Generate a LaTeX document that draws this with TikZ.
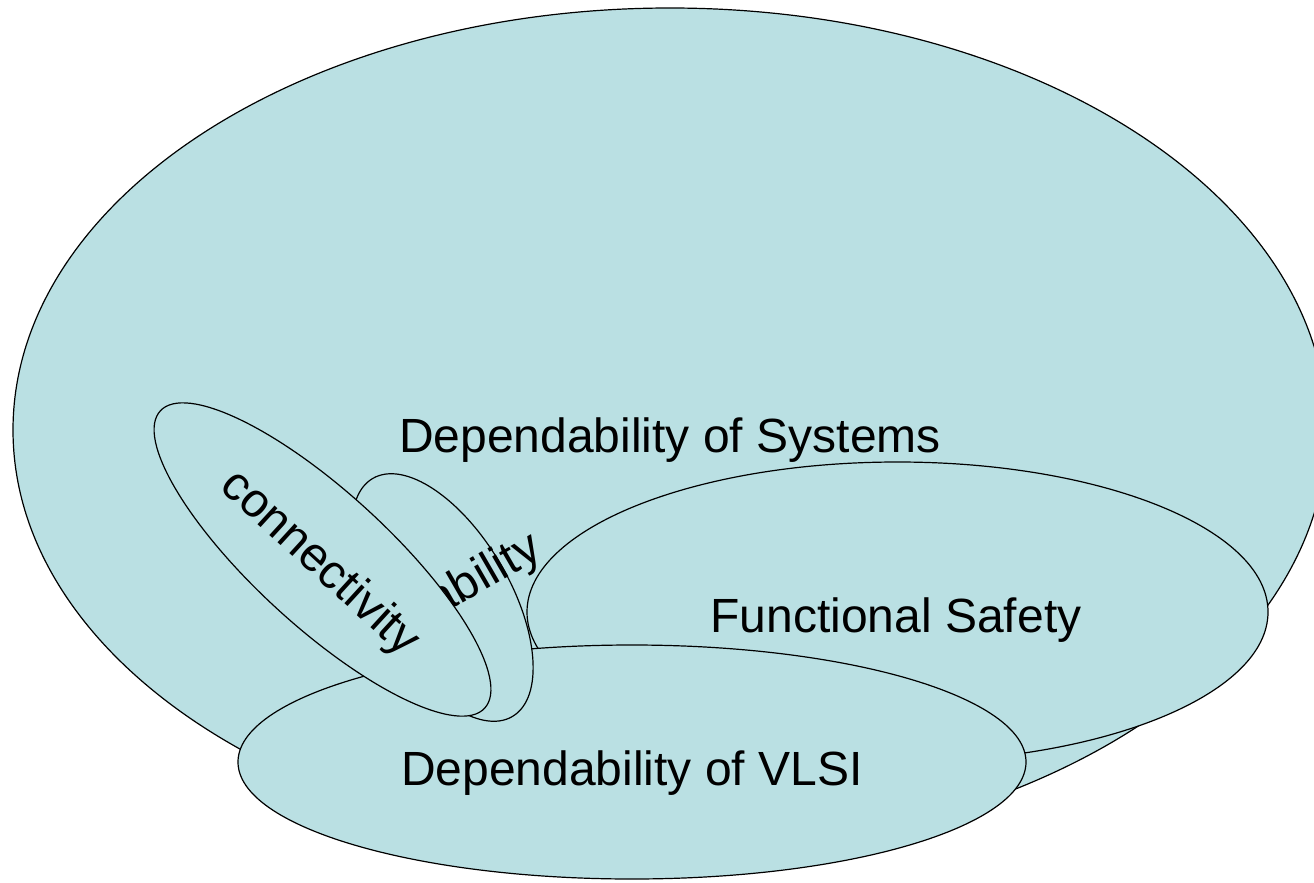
\documentclass[tikz,border=0pt]{standalone}
\usepackage{fontspec}
\setmainfont{Liberation Sans}
\usetikzlibrary{shapes.geometric}
\definecolor{bubble}{RGB}{186,224,227}
\begin{document}
\begin{tikzpicture}[x=1pt,y=-1pt,
  blob/.style={ellipse, draw=black, fill=bubble, line width=1.2pt, inner sep=0pt, outer sep=0pt},
  lbl/.style={font=\fontsize{48}{58}\selectfont, inner sep=0pt, text=black}]
\useasboundingbox (0,0) rectangle (1314,883);
% outer set
\node[blob, minimum width=1314pt, minimum height=844pt] (sys) at (670,430) {};
\node[lbl, anchor=base] (systxt) at (670,452) {Dependability of Systems};
% functional safety
\node[blob, minimum width=741pt, minimum height=300pt] (fs) at (897.5,612) {};
\node[lbl, anchor=base] (fstxt) at (896,632) {Functional Safety};
% VLSI
\node[blob, minimum width=788pt, minimum height=234pt] (vlsi) at (632,762) {};
\node[lbl, anchor=base] (vlsitxt) at (632,785) {Dependability of VLSI};
% partly hidden ellipse
\node[blob, minimum width=276pt, minimum height=134pt, rotate=-59.6] (abl) at (442.5,597.5) {};
\node[lbl, anchor=base, rotate=30] (abltxt) at (491,587) {ability};
% connectivity
\node[blob, minimum width=440pt, minimum height=134pt, rotate=-42.5] (conn) at (322.5,559.5) {};
\node[lbl, anchor=base, rotate=-42.5] (conntxt) at (311,573) {connectivity};
\end{tikzpicture}
\end{document}
